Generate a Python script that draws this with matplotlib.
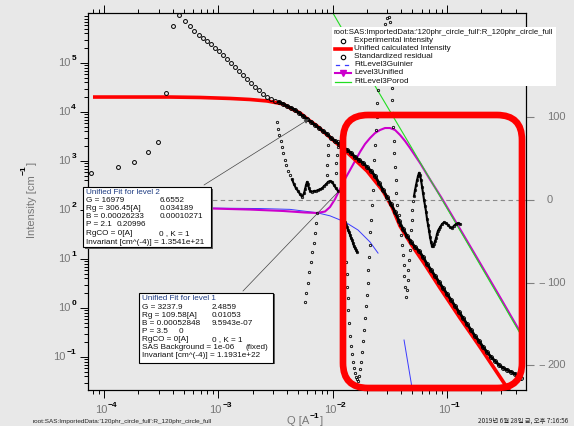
import numpy as np
import matplotlib
matplotlib.use("Agg")
import matplotlib.pyplot as plt
import matplotlib.transforms as mtransforms
from matplotlib.patches import FancyBboxPatch, Rectangle, FancyArrowPatch
from matplotlib.lines import Line2D
from matplotlib.ticker import FixedLocator, LogLocator, NullFormatter

plt.rcParams['font.family'] = ['Liberation Sans', 'DejaVu Sans']

# ---------------- data ----------------
# measured intensity (q in 1/A, I in 1/cm)
exp_q = [7.70e-5, 1.33e-4, 1.83e-4, 2.43e-4, 2.97e-4, 3.49e-4, 4.02e-4, 4.53e-4, 5.11e-4, 5.65e-4, 6.13e-4, 6.78e-4,
         7.35e-4, 7.96e-4, 8.63e-4, 9.36e-4, 1.014e-3, 1.099e-3, 1.192e-3, 1.291e-3, 1.400e-3, 1.517e-3, 1.645e-3,
         1.782e-3, 1.932e-3, 2.095e-3, 2.270e-3,
         2.461e-3, 2.668e-3, 2.892e-3, 3.134e-3, 3.397e-3, 3.683e-3, 3.992e-3, 4.327e-3, 4.691e-3, 5.084e-3,
         5.511e-3, 5.974e-3, 6.476e-3, 7.020e-3, 7.609e-3,
         8.248e-3, 8.940e-3, 9.690e-3, 1.050e-2, 1.138e-2, 1.234e-2, 1.337e-2, 1.450e-2, 1.571e-2, 1.703e-2,
         1.846e-2, 2.001e-2, 2.169e-2, 2.351e-2, 2.548e-2,
         2.762e-2, 2.994e-2, 3.245e-2, 3.518e-2, 3.813e-2, 4.133e-2, 4.480e-2, 4.856e-2, 5.264e-2, 5.706e-2,
         6.185e-2, 6.70e-2, 7.27e-2, 7.88e-2, 8.54e-2,
         9.25e-2, 0.1003, 0.1087, 0.1178, 0.1277, 0.1384, 0.1500, 0.1626, 0.1763, 0.1911, 0.2071, 0.2245,
         0.2433, 0.2637, 0.2858,
         0.3098, 0.3358, 0.3640, 0.3946, 0.4190, 0.4452]
exp_I = [569, 755, 955, 1530, 2440, 24400, 569000, 955000, 719000, 569000, 450000, 372000,
         324000, 281000, 244000, 202000, 176000, 146000, 121000, 100000, 82900, 68700, 56900, 47100, 39100,
         32400, 28100,
         23300, 20200, 18400, 16800, 16000, 14600, 13200, 12100, 11000, 9540, 8280, 7190, 6250, 5430, 4710,
         4090, 3560, 2940, 2560, 2220, 1930, 1680, 1460, 1210, 1050, 910, 755, 625, 494, 356,
         256, 184, 132, 91.0, 59.7, 41.0, 29.4, 22.2, 17.6, 14.6, 11.0, 7.91, 5.97, 4.50, 3.39,
         2.56, 1.93, 1.46, 1.10, 0.828, 0.625, 0.471, 0.356, 0.268, 0.212, 0.160, 0.126, 0.100, 0.0828, 0.0687,
         0.0597, 0.0543, 0.0494, 0.0450, 0.0409, 0.0373]

# unified model, total
calc_q = [8.01e-5, 1.688e-4, 3.78e-4, 6.92e-4, 1.266e-3, 1.894e-3, 2.668e-3, 3.683e-3, 4.327e-3, 5.185e-3,
          6.096e-3, 7.30e-3, 8.587e-3, 1.008e-2, 1.42e-2, 2.001e-2, 2.762e-2, 3.311e-2, 3.89e-2, 4.856e-2,
          6.30e-2, 8.71e-2, 0.1302, 0.1949, 0.3161, 0.4452]
calc_I = [20200, 20200, 20200, 19800, 18900, 18000, 16800, 14600, 11800, 9550,
          7030, 5180, 3720, 2690, 1320, 625, 244, 115, 47.1, 20.2,
          8.28, 2.56, 0.625, 0.160, 0.0294, 0.0091]

# level 3 components
lvl3_q = [7.24e-5, 2.53e-4, 8.99e-4, 1.894e-3, 3.683e-3, 5.73e-3, 7.30e-3, 8.58e-3, 9.49e-3, 1.050e-2,
          1.161e-2, 1.284e-2, 1.421e-2, 1.571e-2, 1.737e-2, 1.921e-2, 2.125e-2, 2.351e-2, 2.599e-2, 2.874e-2,
          3.178e-2, 3.518e-2, 3.89e-2, 4.30e-2, 4.756e-2, 5.82e-2, 7.12e-2, 8.88e-2, 0.1302, 0.1949,
          0.2915, 0.4452]
lvl3_I = [115, 115, 107, 102, 95.5, 88.9, 86.9, 93.1, 115, 167,
          268, 430, 655, 1000, 1530, 2220, 2940, 3720, 4290, 4710,
          4710, 4290, 3400, 2560, 1840, 910, 419, 184, 41.0, 8.28,
          1.67, 0.302]

guin_q = [7.24e-5, 6.92e-4, 2.32e-3, 4.24e-3, 7.30e-3, 9.49e-3, 1.284e-2, 1.669e-2, 2.125e-2, 2.497e-2,
          4.217e-2, 4.955e-2, 5.37e-2]
guin_I = [110, 110, 107, 103, 88, 76, 57, 39, 22.2, 13.2,
          0.222, 0.0233, 0.005]
guin_gap = 10  # the long dash pattern leaves a gap after this point

porod_q = [7.92e-3, 2.447e-2, 4.856e-2, 8.88e-2, 0.1949, 0.4452]
porod_I = [2.75e6, 29000, 1950, 176, 7.65, 0.281]

# standardized residuals (right axis)
res1_q = [3.263e-3, 3.329e-3, 3.397e-3, 3.537e-3, 3.609e-3, 3.683e-3, 3.834e-3, 3.912e-3, 4.073e-3, 4.241e-3]
res1 = [94, 86, 79, 71, 64, 57, 48, 42, 35, 30]

res2_q = [4.415e-3, 4.597e-3, 4.786e-3, 4.983e-3, 5.188e-3, 5.401e-3, 5.623e-3, 5.738e-3, 5.855e-3, 5.974e-3,
          6.096e-3, 6.220e-3, 6.347e-3, 6.608e-3, 6.880e-3, 7.163e-3, 7.457e-3, 7.764e-3, 8.083e-3, 8.416e-3,
          8.762e-3, 9.122e-3, 9.497e-3, 9.888e-3, 1.029e-2, 1.072e-2, 1.116e-2]
res2 = [25, 19, 14, 11, 7, 4, 8, 13, 18, 22, 19, 14, 11, 10, 11, 11, 12, 13, 14, 17, 19, 22, 23, 22, 18, 14, 11]

res3_q = [1.285e-2, 1.311e-2, 1.337e-2, 1.364e-2, 1.392e-2, 1.421e-2, 1.450e-2, 1.479e-2, 1.509e-2, 1.540e-2,
          1.571e-2, 1.603e-2, 1.636e-2]
res3 = [-27, -30, -33, -36, -39, -42, -46, -48, -52, -56, -58, -60, -63]

res4_q = [5.738e-3, 5.855e-3, 6.096e-3, 6.220e-3, 6.476e-3, 6.608e-3, 6.880e-3, 7.020e-3, 7.163e-3, 7.309e-3,
          8.940e-3, 8.940e-3, 9.122e-3, 9.122e-3, 1.072e-2, 1.072e-2, 1.094e-2, 1.116e-2, 1.116e-2]
res4 = [-123, -112, -100, -87, -75, -63, -52, -40, -28, -16, 30, 42, 54, 66, 33, 45, 54, 64, 72]

res5_q = ([1.311e-2, 1.337e-2, 1.337e-2, 1.364e-2, 1.364e-2, 1.392e-2, 1.421e-2, 1.450e-2, 1.479e-2, 1.509e-2,
           1.540e-2, 1.571e-2, 1.603e-2, 1.636e-2]
          + [1.669e-2, 1.703e-2, 1.738e-2, 1.773e-2, 1.809e-2, 1.846e-2, 1.884e-2, 1.922e-2, 1.961e-2, 2.001e-2,
             2.042e-2, 2.042e-2, 2.083e-2, 2.126e-2, 2.126e-2, 2.169e-2, 2.213e-2, 2.258e-2, 2.304e-2, 2.304e-2,
             2.351e-2, 2.399e-2, 2.448e-2, 2.448e-2, 2.497e-2]
          + [2.875e-2, 2.994e-2, 3.117e-2, 3.180e-2]
          + [3.311e-2, 3.311e-2, 3.378e-2, 3.378e-2, 3.447e-2, 3.447e-2, 3.518e-2, 3.589e-2, 3.589e-2, 3.662e-2,
             3.813e-2, 3.891e-2, 3.970e-2, 4.051e-2, 4.133e-2, 4.217e-2, 4.217e-2, 4.303e-2, 4.391e-2]
          + [4.480e-2, 4.571e-2, 4.571e-2, 4.664e-2, 4.759e-2, 4.759e-2, 4.856e-2, 4.955e-2, 4.955e-2, 5.056e-2])
res5 = ([-75, -89, -105, -118, -133, -149, -164, -176, -186, -196, -203, -209, -214, -217]
        + [-219, -213, -205, -196, -184, -170, -157, -143, -128, -115, -100, -85, -69, -54, -39, -24, -6, 12, 30,
           48, 66, 85, 100, 117, 133]
        + [213, 220, 222, 215]
        + [135, 121, 105, 88, 72, 57, 40, 24, 8, -6, -18, -30, -42, -54, -66, -79, -92, -105, -117]
        + [-109, -97, -85, -72, -60, -48, -36, -24, -12, -1])

res6_q = [5.159e-2, 5.264e-2, 5.371e-2, 5.480e-2, 5.592e-2, 5.706e-2, 5.822e-2, 5.940e-2, 6.061e-2, 6.185e-2,
          6.311e-2, 6.439e-2, 6.570e-2, 6.70e-2, 6.84e-2, 6.98e-2, 7.12e-2, 7.27e-2, 7.41e-2, 7.56e-2,
          7.72e-2, 7.88e-2, 8.04e-2, 8.20e-2, 8.37e-2, 8.54e-2, 8.71e-2, 9.07e-2, 9.44e-2, 9.83e-2,
          0.1023, 0.1065, 0.1109, 0.1155, 0.1202, 0.1252, 0.1303]
res6 = [5, 12, 18, 24, 29, 33, 30, 24, 16, 8, 0, -7, -14, -23, -30, -37, -45, -51, -56, -56,
        -53, -50, -46, -41, -37, -35, -33, -29, -27, -28, -30, -33, -34, -31, -29, -28, -29]

residual_sets = [(res1_q, res1, False), (res2_q, res2, True), (res3_q, res3, True),
                 (res4_q, res4, False), (res5_q, res5, False), (res6_q, res6, True)]

level2_lines = [("Unified Fit for level 2", None),
                ("G = 16979", "6.6552"),
                ("Rg = 306.45[A]", "0.034189"),
                ("B = 0.00026233", "0.00010271"),
                ("P = 2.1", "0.20996"),
                ("RgCO = 0[A]", "0 , K = 1"),
                ("Invariant [cm^(-4)] = 1.3541e+21", None)]
level1_lines = [("Unified Fit for level 1", None),
                ("G = 3237.9", "2.4859"),
                ("Rg = 109.58[A]", "0.01053"),
                ("B = 0.00052848", "9.5943e-07"),
                ("P = 3.5", "0"),
                ("RgCO = 0[A]", "0 , K = 1"),
                ("SAS Background = 1e-06", "(fixed)"),
                ("Invariant [cm^(-4)] = 1.1931e+22", None)]

legend_title = "root:SAS:ImportedData:'120phr_circle_full':R_120phr_circle_full"
legend_labels = ["Experimental intensity", "Unified calculated Intensity", "Standardized residual",
                 "FitLevel3Guinier", "Level3Unified", "FitLevel3Porod"]
footer_left = "root:SAS:ImportedData:'120phr_circle_full':R_120phr_circle_full"
footer_right = "2019년 6월 28일 금, 오후 7:16:56"

# ---------------- figure ----------------
W, H = 574, 426
BG = '#e8e8e8'
GRAY = '#777777'
RED = '#ff0000'
MAGENTA = '#cc00cc'
GREEN = '#22dd22'
BLUE = '#3a3aff'
TXT = 5.9

fig = plt.figure(figsize=(W / 100, H / 100), dpi=100, facecolor=BG)


def fx(x):
    return x / W


def fy(y):
    return 1 - y / H


ax = fig.add_axes([fx(88), fy(390), (526 - 88) / W, (390 - 12.7) / H])
ax.set_facecolor(BG)
ax.set_xscale('log')
ax.set_yscale('log')
ax.set_xlim(7.244e-5, 0.492)
ax.set_ylim(0.0212, 1.063e6)

ax2 = ax.twinx()
ax2.set_ylim(-229.8, 226.6)

# model curves
ax.plot(lvl3_q, lvl3_I, color=MAGENTA, lw=1.5, zorder=2)
ax.plot(porod_q, porod_I, color=GREEN, lw=0.8, zorder=2.1)
ax.plot(guin_q[:guin_gap], guin_I[:guin_gap], color=BLUE, lw=0.7, zorder=1.9)
ax.plot(guin_q[guin_gap:], guin_I[guin_gap:], color=BLUE, lw=0.7, zorder=1.9)
ax.plot(calc_q, calc_I, color=RED, lw=2.6, zorder=2.5, solid_capstyle='butt')

# measured data
eq = np.array(exp_q)
eI = np.array(exp_I)
dense = eq >= 3.3e-3
ax.plot(eq[dense], eI[dense], color='k', lw=2.0, zorder=3)
ax.plot(eq, eI, ls='none', marker='o', ms=2.8, mfc='none', mec='k', mew=0.7, zorder=3.1)

# residuals
ax2.axhline(0, color='#8a8a8a', lw=0.8, dashes=(4, 3), zorder=1)
for rq, rv, joined in residual_sets:
    if joined:
        ax2.plot(rq, rv, color='k', lw=1.5, zorder=3)
    ax2.plot(rq, rv, ls='none', marker='o', ms=1.7, mfc='none', mec='k', mew=0.6, zorder=3.1)

# axes styling
for a in (ax, ax2):
    for s in a.spines.values():
        s.set_linewidth(0.8)
        s.set_color('k')

ax.xaxis.set_major_locator(FixedLocator([1e-4, 1e-3, 1e-2, 1e-1]))
ax.xaxis.set_minor_locator(LogLocator(base=10, subs=np.arange(2, 10), numticks=30))
ax.yaxis.set_major_locator(FixedLocator([1e-1, 1e0, 1e1, 1e2, 1e3, 1e4, 1e5]))
ax.yaxis.set_minor_locator(LogLocator(base=10, subs=np.arange(2, 10), numticks=30))
for axis in (ax.xaxis, ax.yaxis):
    axis.set_major_formatter(NullFormatter())
    axis.set_minor_formatter(NullFormatter())
ax.tick_params(which='both', direction='out', top=True, bottom=True, left=True, right=False,
               labelleft=False, labelbottom=False, color='k', width=0.7)
ax.tick_params(which='major', length=5.5)
ax.tick_params(which='minor', length=3)

ax2.set_yticks([-200, -100, 0, 100])
ax2.yaxis.set_minor_locator(FixedLocator([]))
ax2.tick_params(axis='y', direction='out', length=6, color='#808080', width=0.8, labelright=False)

# tick labels: gray mantissa, bold black exponent
xtr = mtransforms.blended_transform_factory(ax.transData, ax.transAxes)
for e in [-4, -3, -2, -1]:
    base = ax.text(10.0 ** e, 0, '10', transform=mtransforms.offset_copy(xtr, fig=fig, x=3.5, y=-20, units='dots'),
                   ha='right', va='center', fontsize=8, color=GRAY)
    ax.annotate(str(e).replace('-', '\u2212'), xy=(1, 0.5), xycoords=base, xytext=(0.5, 4.5),
                textcoords='offset pixels', ha='left', va='center', fontsize=6, fontweight='bold', color='k')

ytr = mtransforms.blended_transform_factory(ax.transAxes, ax.transData)
for e in [-1, 0, 1, 2, 3, 4, 5]:
    ex = ax.text(0, 10.0 ** e, str(e).replace('-', '\u2212'),
                 transform=mtransforms.offset_copy(ytr, fig=fig, x=-12, y=4.5, units='dots'),
                 ha='right', va='center', fontsize=6, fontweight='bold', color='k')
    ax.annotate('10', xy=(0, 0.5), xycoords=ex, xytext=(-0.5, -4.5), textcoords='offset pixels',
                ha='right', va='center', fontsize=8, color=GRAY)

rtr = mtransforms.blended_transform_factory(ax2.transAxes, ax2.transData)
for v in [100, 0, -100, -200]:
    ax2.text(1, v, str(abs(v)), transform=mtransforms.offset_copy(rtr, fig=fig, x=21, y=0, units='dots'),
             ha='left', va='center', fontsize=8, color=GRAY)
    if v < 0:
        ax2.text(1, v, '\u2212', transform=mtransforms.offset_copy(rtr, fig=fig, x=18.5, y=0, units='dots'),
                 ha='right', va='center', fontsize=8, color=GRAY)

# axis titles
qb = fig.text(fx(287), fy(421), 'Q [A', ha='left', va='center', fontsize=8, color=GRAY)
qe = ax.annotate('\u22121', xy=(1, 0.5), xycoords=qb, xytext=(0.5, 5), textcoords='offset pixels',
                 ha='left', va='center', fontsize=6, fontweight='bold', color='k')
ax.annotate(']', xy=(1, 0.5), xycoords=(qe, qb), xytext=(0.5, 0), textcoords='offset pixels',
            ha='left', va='center', fontsize=8, color=GRAY)

ib = fig.text(fx(32), fy(238), 'Intensity [cm', rotation=90, ha='center', va='bottom', fontsize=8, color=GRAY)
ie = ax.annotate('\u22121', xy=(0, 1), xycoords=ib, xytext=(1, 0.5), textcoords='offset pixels',
                 rotation=90, ha='right', va='bottom', fontsize=6, fontweight='bold', color='k')
ax.annotate(']', xy=(0.5, 1), xycoords=(ib, ie), xytext=(0, 0.5), textcoords='offset pixels',
            rotation=90, ha='center', va='bottom', fontsize=8, color=GRAY)

# pointer lines from the fit boxes
fig.add_artist(FancyArrowPatch((fx(204), fy(185)), (fx(309), fy(119)), transform=fig.transFigure,
                               arrowstyle='-|>', mutation_scale=7, lw=0.5, color='#444444',
                               shrinkA=0, shrinkB=0, zorder=4))
fig.add_artist(Line2D([fx(243), fx(337)], [fy(291), fy(193)], transform=fig.transFigure,
                      lw=0.5, color='#444444', zorder=4))


def info_box(x0, y0, x1, y1, lines, xcol, ycenters, special=None):
    fig.add_artist(Rectangle((fx(x0) + 1.5 / W, fy(y1) - 1.5 / H), (x1 - x0) / W, (y1 - y0) / H,
                             transform=fig.transFigure, facecolor='#606060', edgecolor='none', zorder=5))
    fig.add_artist(Rectangle((fx(x0), fy(y1)), (x1 - x0) / W, (y1 - y0) / H, transform=fig.transFigure,
                             facecolor='white', edgecolor='k', lw=0.8, zorder=6))
    for i, ((left, right), yc) in enumerate(zip(lines, ycenters)):
        col = '#1e3c82' if i == 0 else '#111111'
        fig.text(fx(x0 + 2.5), fy(yc), left, fontsize=TXT, color=col, ha='left', va='center', zorder=7)
        if right is not None:
            xr = special.get(i, xcol) if special else xcol
            fig.text(fx(xr), fy(yc), right, fontsize=TXT, color=col, ha='left', va='center', zorder=7)


info_box(83, 187, 211, 247, level2_lines, 159.3, [192, 200.3, 208.5, 216.8, 225, 233.5, 242], {4: 116.7})
info_box(139, 292.5, 273, 362.5, level1_lines, 211.7, [299, 307.3, 315.3, 323.3, 331.5, 339.5, 347.7, 355.7],
         {4: 178.3, 6: 245})

# highlight frame
fig.add_artist(FancyBboxPatch((343 / 100, (H - 388) / 100), (522 - 343) / 100, (388 - 115) / 100,
                              boxstyle='round,pad=0,rounding_size=0.25', transform=fig.dpi_scale_trans,
                              fill=False, edgecolor=RED, lw=4.8, zorder=4.5))

# legend
fig.add_artist(Rectangle((fx(331.5), fy(85.5)), (556 - 331.5) / W, (85.5 - 27.3) / H, transform=fig.transFigure,
                         facecolor='white', edgecolor='none', zorder=8))
fig.text(fx(334), fy(32.5), legend_title, fontsize=5.6, color='#111111', ha='left', va='center', zorder=9)
leg_y = [40.7, 49, 56.8, 65, 72.8, 81.5]
for lab, yy in zip(legend_labels, leg_y):
    fig.text(fx(354), fy(yy), lab, fontsize=TXT, color='#111111', ha='left', va='center', zorder=9)
tf = fig.transFigure
fig.add_artist(Line2D([fx(342.7)], [fy(leg_y[0])], transform=tf, ls='none', marker='o', ms=3.2,
                      mfc='none', mec='k', mew=0.8, zorder=9))
fig.add_artist(Line2D([fx(335), fx(351)], [fy(leg_y[1])] * 2, transform=tf, color=RED, lw=2.6, zorder=9))
fig.add_artist(Line2D([fx(342.7)], [fy(leg_y[2])], transform=tf, ls='none', marker='o', ms=3.2,
                      mfc='none', mec='k', mew=0.8, zorder=9))
for xa, xb in [(336, 339), (345, 348)]:
    fig.add_artist(Line2D([fx(xa), fx(xb)], [fy(leg_y[3])] * 2, transform=tf, color=BLUE, lw=0.9, zorder=9))
fig.add_artist(Line2D([fx(335), fx(351)], [fy(leg_y[4])] * 2, transform=tf, color=MAGENTA, lw=1.5, zorder=9))
fig.add_artist(Line2D([fx(342.7)], [fy(leg_y[4])], transform=tf, ls='none', marker='v', ms=4.5,
                      color=MAGENTA, zorder=9))
fig.add_artist(Line2D([fx(335), fx(351)], [fy(leg_y[5])] * 2, transform=tf, color=GREEN, lw=0.9, zorder=9))

# footer
fig.text(fx(33), fy(421), footer_left, fontsize=4.6, color='#222222', ha='left', va='center')
fig.text(fx(478), fy(421), footer_right, fontsize=4.6, color='#222222', ha='left', va='center',
         family=['Noto Sans CJK KR', 'DejaVu Sans'])

fig.savefig('out.png', dpi=100, facecolor=BG)
